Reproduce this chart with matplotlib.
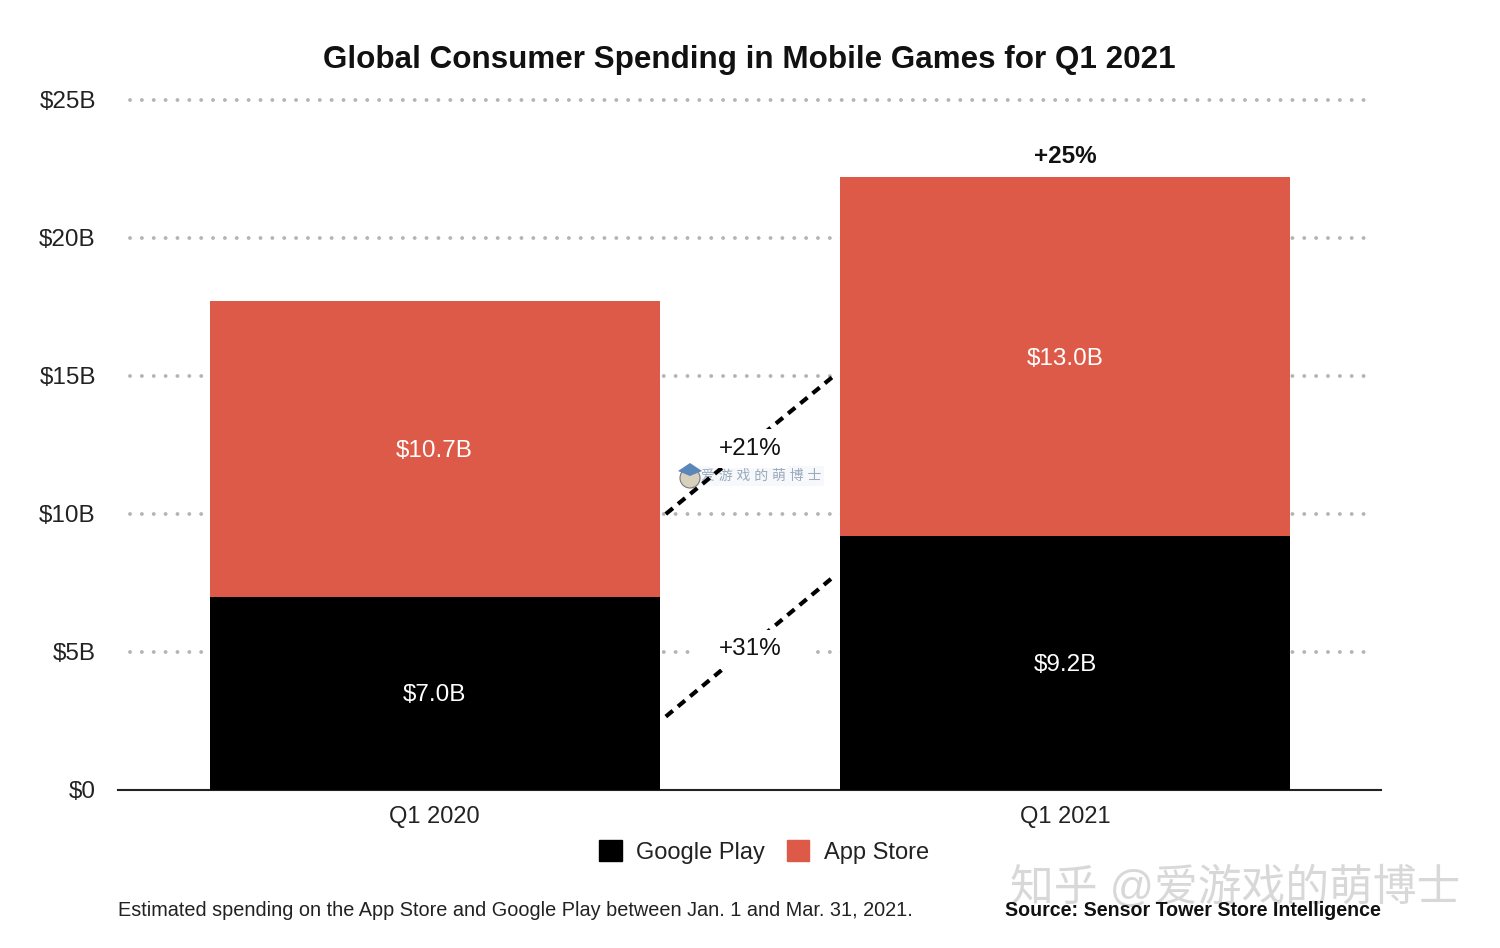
import matplotlib
matplotlib.use("Agg")
import matplotlib.pyplot as plt
from matplotlib.patches import Patch, Circle, Polygon
from matplotlib.transforms import IdentityTransform

plt.rcParams['font.family'] = ['Liberation Sans', 'Noto Sans CJK SC', 'DejaVu Sans']

quarters = ["Q1 2020", "Q1 2021"]
google_play = [7.0, 9.2]
app_store = [10.7, 13.0]
google_labels = ["$7.0B", "$9.2B"]
app_labels = ["$10.7B", "$13.0B"]
y_ticks = [0, 5, 10, 15, 20, 25]
y_labels = ["$0", "$5B", "$10B", "$15B", "$20B", "$25B"]

BLACK = "#000000"
RED = "#dc5a47"
W, H = 1500, 948

fig = plt.figure(figsize=(W / 100, H / 100), dpi=100)
# axes box runs from the baseline to the $25B gridline
ax = fig.add_axes([118 / W, 1 - 790 / H, (1381 - 118) / W, (790 - 100) / H])

x = [0, 1]
bar_w = 450 / 630.5
ax.set_xlim(-(434.5 - 118) / 630.5, 1 + (1381 - 1065) / 630.5)
ax.set_ylim(0, 25)

for s in ["top", "left", "right"]:
    ax.spines[s].set_visible(False)
ax.spines["bottom"].set_linewidth(1.5)
ax.spines["bottom"].set_color("#222222")

# dotted gridlines start a little right of the axis line
left = -(434.5 - 130) / 630.5
right = 1 + (1374 - 1065) / 630.5
for t in y_ticks[1:]:
    ax.plot([left, right], [t, t], color="#b4b4b4", lw=2.8, clip_on=False,
            dashes=(0.01, 3.04), dash_capstyle="round", zorder=1)

ax.bar(x, google_play, width=bar_w, color=BLACK, zorder=3)
ax.bar(x, app_store, width=bar_w, bottom=google_play, color=RED, zorder=3)

# the $5B dots stop well short of the +31% label
ax.bar([0.507], [0.3], width=0.187, bottom=4.85, color="white", zorder=2)

ax.set_xticks(x)
ax.set_xticklabels(quarters, fontsize=17, color="#222222")
ax.set_yticks(y_ticks)
ax.set_yticklabels(y_labels, fontsize=17.5, color="#222222")
ax.tick_params(axis="both", length=0)
ax.tick_params(axis="x", pad=11.3)
ax.tick_params(axis="y", pad=16)

for i in x:
    ax.text(i, google_play[i] / 2 - 0.07, google_labels[i], color="white", fontsize=17.5,
            ha="center", va="center", zorder=4)
    ax.text(i, google_play[i] + app_store[i] / 2 - 0.07, app_labels[i], color="white",
            fontsize=17.5, ha="center", va="center", zorder=4)

total_top = google_play[1] + app_store[1]
ax.text(1, total_top + 0.77, "+25%", fontsize=17.5, fontweight="bold",
        ha="center", va="center", color="#111111")

# dashed growth connectors between the bars
inner_l = bar_w / 2 + 0.01
inner_r = 1 - bar_w / 2 - 0.01
ax.plot([inner_l, inner_r], [2.66, 7.73], color=BLACK, lw=3,
        dashes=(2.2, 1.6), zorder=4)
ax.plot([inner_l, inner_r], [10.0, 15.0], color=BLACK, lw=3,
        dashes=(2.2, 1.6), zorder=4)
ax.text(0.5, 12.37, "+21%", fontsize=17.5, ha="center", va="center",
        color="#111111", zorder=5,
        bbox=dict(fc="white", ec="none", pad=6))
ax.text(0.5, 5.1, "+31%", fontsize=17.5, ha="center", va="center",
        color="#111111", zorder=5,
        bbox=dict(fc="white", ec="none", pad=6))

fig.text(749 / W, 1 - 60 / H, "Global Consumer Spending in Mobile Games for Q1 2021",
         fontsize=22.55, fontweight="bold", ha="center", va="center", color="#111111")

handles = [Patch(color=BLACK, label="Google Play"), Patch(color=RED, label="App Store")]
fig.legend(handles=handles, loc="center", bbox_to_anchor=(764 / W, 1 - 852 / H), ncol=2,
           frameon=False, fontsize=17, handlelength=0.97, handleheight=1.0,
           handletextpad=0.6, columnspacing=0.9, labelcolor="#222222")

fig.text(118 / W, 1 - 910 / H,
         "Estimated spending on the App Store and Google Play between Jan. 1 and Mar. 31, 2021.",
         fontsize=14.28, ha="left", va="center", color="#222222")
fig.text(1381 / W, 1 - 911 / H, "Source: Sensor Tower Store Intelligence",
         fontsize=14.15, fontweight="bold", ha="right", va="center", color="#111111", zorder=11)

# platform watermarks
fig.text(1235 / W, 1 - 888 / H, "知乎 @爱游戏的萌博士", fontsize=31.5, ha="center",
         va="center", color="#c4c4c4", alpha=0.65, zorder=10)
ax.text(761 / W, 1 - 476 / H, "爱 游 戏 的 萌 博 士", fontsize=10, ha="center",
        va="center", color="#8a9bb0", alpha=0.85, zorder=3.5, transform=fig.transFigure,
        bbox=dict(fc="#f6f8fb", ec="none", pad=2))

# little avatar next to the small watermark
fig.add_artist(Circle((690, H - 478), 10, transform=IdentityTransform(),
                      fc="#d8d0bc", ec="#777777", lw=0.8, zorder=3))
fig.add_artist(Polygon([(678, H - 471), (690, H - 463), (702, H - 471), (690, H - 476)],
                       closed=True, transform=IdentityTransform(),
                       fc="#5b86b8", ec="none", zorder=3))

fig.savefig("out.png", dpi=100)
